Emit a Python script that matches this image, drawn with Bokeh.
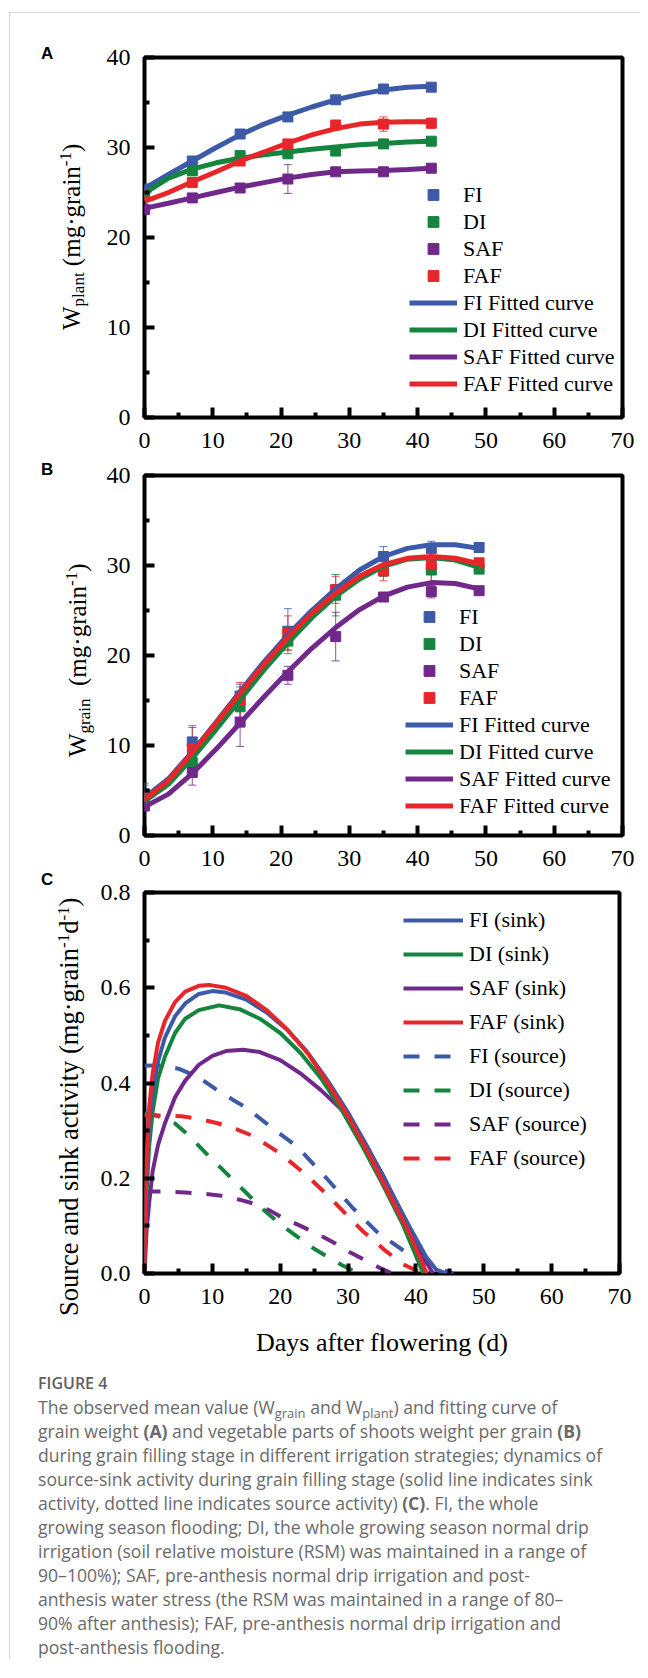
from bokeh.plotting import figure
from bokeh.models import (Range1d, FixedTicker, Legend, LegendItem, Whisker,
                          TeeHead, ColumnDataSource, PrintfTickFormatter, Div)
from bokeh.layouts import column, row
from bokeh.embed import file_html
from bokeh.resources import INLINE

series = ["FI", "DI", "SAF", "FAF"]
colors = ["#3C5AA8", "#15843E", "#70288A", "#E8262A"]

x_ticks = [0, 10, 20, 30, 40, 50, 60, 70]
x_minor = [5, 15, 25, 35, 45, 55, 65]
w_ticks = [0, 10, 20, 30, 40]
w_minor = [5, 15, 25, 35]
c_ticks = [0.0, 0.2, 0.4, 0.6, 0.8]
c_minor = [0.1, 0.3, 0.5, 0.7]

# ---------------- Panel A : W_plant ----------------
days_a = [0, 7, 14, 21, 28, 35, 42]
plant_fi = [25.4, 28.5, 31.5, 33.4, 35.3, 36.5, 36.7]
plant_di = [24.9, 27.4, 29.1, 29.3, 29.6, 30.4, 30.7]
plant_saf = [23.1, 24.4, 25.5, 26.5, 27.3, 27.3, 27.7]
plant_faf = [24.7, 26.1, 28.5, 30.4, 32.5, 32.6, 32.7]
plant_err_fi = [0.3, 0.3, 0.3, 0.3, 0.2, 0.3, 0.3]
plant_err_di = [0.5, 0.4, 0.3, 0.3, 0.3, 0.2, 0.2]
plant_err_saf = [0.3, 0.2, 0.3, 1.6, 0.2, 0.2, 0.2]
plant_err_faf = [0.5, 0.3, 0.3, 0.3, 0.3, 0.8, 0.55]

fit_days_a = [0, 1, 3.5, 7, 10.5, 14, 17.5, 21, 24.5, 28, 31.5, 35, 38.5, 42]
fit_a_fi = [25.5, 25.9, 27.0, 28.5, 30.0, 31.4, 32.6, 33.6, 34.5, 35.3, 35.9, 36.4, 36.7, 36.8]
fit_a_di = [24.6, 25.4, 26.6, 27.6, 28.3, 28.8, 29.2, 29.5, 29.8, 30.05, 30.3, 30.45, 30.6, 30.7]
fit_a_saf = [23.2, 23.4, 23.8, 24.4, 25.0, 25.6, 26.1, 26.6, 27.0, 27.3, 27.4, 27.45, 27.55, 27.7]
fit_a_faf = [24.0, 24.3, 25.0, 26.2, 27.3, 28.5, 29.5, 30.5, 31.4, 32.1, 32.6, 32.8, 32.85, 32.85]

# ---------------- Panel B : W_grain ----------------
days_b = [0, 7, 14, 21, 28, 35, 42, 49]
grain_fi = [4.6, 10.4, 15.5, 22.7, 27.3, 31.0, 31.9, 32.0]
grain_di = [4.5, 8.1, 14.3, 21.6, 26.7, 29.4, 29.5, 29.6]
grain_saf = [3.3, 7.0, 12.6, 17.8, 22.1, 26.5, 27.1, 27.2]
grain_faf = [4.3, 9.6, 15.0, 22.5, 27.3, 29.4, 30.1, 30.3]
grain_err_fi = [1.0, 1.8, 1.3, 2.5, 0.6, 1.1, 0.8, 0.5]
grain_err_di = [1.3, 1.0, 2.2, 1.0, 2.3, 0.6, 2.0, 0.3]
grain_err_saf = [0.6, 1.4, 2.7, 1.0, 2.7, 0.4, 0.7, 0.3]
grain_err_faf = [0.8, 2.4, 2.0, 1.9, 1.5, 1.1, 2.3, 0.4]

fit_days_b = [0, 3.5, 7, 10.5, 14, 17.5, 21, 24.5, 28, 31.5, 35, 38.5, 42, 45.5, 49]
fit_b_fi = [4.2, 6.3, 9.3, 12.6, 16.0, 19.3, 22.3, 25.0, 27.4, 29.5, 31.0, 31.9, 32.3, 32.3, 31.9]
fit_b_di = [3.8, 5.7, 8.6, 11.8, 15.1, 18.4, 21.4, 24.2, 26.6, 28.5, 29.9, 30.7, 30.9, 30.6, 29.8]
fit_b_saf = [3.2, 4.6, 6.9, 9.6, 12.5, 15.4, 18.2, 20.8, 23.1, 25.1, 26.6, 27.6, 28.1, 28.0, 27.4]
fit_b_faf = [4.0, 6.1, 9.2, 12.5, 15.8, 19.0, 22.0, 24.7, 26.9, 28.8, 30.1, 30.8, 31.0, 30.8, 30.2]

# ---------------- Panel C : source / sink activity ----------------
sink_fi_d = [0, 0.3, 0.7, 1.2, 2, 3, 4.5, 6, 8, 10, 12, 15, 18, 21, 24, 27, 30, 33, 36, 39, 41.5, 43, 44.5]
sink_fi_v = [0, 0.2, 0.31, 0.38, 0.445, 0.495, 0.54, 0.567, 0.587, 0.593, 0.59, 0.575, 0.548, 0.512,
             0.465, 0.405, 0.338, 0.262, 0.18, 0.1, 0.035, 0.008, 0.0]
sink_di_d = [0, 0.3, 0.7, 1.2, 2, 3, 4.5, 6, 8, 11, 14, 17, 20, 23, 26, 29, 32, 35, 38, 41.1]
sink_di_v = [0, 0.17, 0.27, 0.34, 0.41, 0.455, 0.505, 0.535, 0.553, 0.563, 0.555, 0.535, 0.505,
             0.463, 0.41, 0.345, 0.27, 0.19, 0.105, 0.0]
sink_saf_d = [0, 0.3, 0.7, 1.2, 2, 3, 4.5, 6, 8, 10, 12, 14.5, 17, 20, 23, 26, 29, 32, 35, 38, 40.5, 42.5]
sink_saf_v = [0, 0.09, 0.15, 0.215, 0.27, 0.315, 0.37, 0.405, 0.438, 0.457, 0.467, 0.47, 0.465, 0.448,
              0.42, 0.385, 0.345, 0.285, 0.21, 0.125, 0.05, 0.0]
sink_faf_d = [0, 0.3, 0.7, 1.2, 2, 3, 4.5, 6, 8, 9.5, 12, 15, 18, 21, 24, 27, 30, 33, 36, 39, 41.6]
sink_faf_v = [0, 0.24, 0.35, 0.42, 0.485, 0.53, 0.57, 0.592, 0.604, 0.606, 0.6, 0.583, 0.553, 0.513,
              0.463, 0.4, 0.33, 0.252, 0.168, 0.085, 0.0]

src_fi_d = [0, 3, 5, 8, 10.4, 13, 15, 18.7, 22.6, 26.7, 30.6, 34.5, 38.5, 41, 43.8, 45.5]
src_fi_v = [0.437, 0.436, 0.43, 0.412, 0.388, 0.365, 0.348, 0.307, 0.265, 0.202, 0.139, 0.084,
            0.045, 0.025, 0.008, 0.0]
src_di_d = [0, 1.5, 3, 4.5, 6.5, 8.9, 12.8, 15.8, 18, 20.6, 25, 27, 29.2, 31.5]
src_di_v = [0.336, 0.333, 0.325, 0.315, 0.29, 0.255, 0.2, 0.158, 0.128, 0.097, 0.052, 0.035, 0.017, 0.0]
src_saf_d = [0, 3, 6, 9, 11, 14, 16.3, 18.5, 20.6, 23, 25.5, 28, 30.2, 32.5, 34.5, 36.5]
src_saf_v = [0.172, 0.172, 0.17, 0.167, 0.164, 0.155, 0.146, 0.132, 0.115, 0.1, 0.083, 0.064,
             0.045, 0.028, 0.013, 0.0]
src_faf_d = [0, 3, 5.5, 8, 10.9, 13.5, 15.8, 19.7, 23.6, 27, 30, 32.1, 35.5, 38, 40.5, 41.5]
src_faf_v = [0.332, 0.332, 0.33, 0.325, 0.315, 0.303, 0.29, 0.255, 0.21, 0.164, 0.12, 0.09, 0.048,
             0.02, 0.003, 0.0]

SERIF = "Liberation Serif"
STRIP_W = 86          # width of the left strip holding the rotated axis titles
MAIN_W = 630 - STRIP_W


def style_fig(p, yticks, yminor, yfmt=None):
    p.grid.visible = False
    p.outline_line_color = "black"
    p.outline_line_width = 4
    p.background_fill_color = "white"
    p.border_fill_color = "white"
    p.xaxis.ticker = FixedTicker(ticks=x_ticks, minor_ticks=x_minor)
    p.yaxis.ticker = FixedTicker(ticks=yticks, minor_ticks=yminor)
    if yfmt:
        p.yaxis.formatter = PrintfTickFormatter(format=yfmt)
    for axes in (p.xaxis, p.yaxis):
        axes.axis_line_color = None
        axes.major_tick_in = 10
        axes.major_tick_out = 0
        axes.minor_tick_in = 5
        axes.minor_tick_out = 0
        axes.major_tick_line_width = 4
        axes.minor_tick_line_width = 4
        axes.major_tick_line_color = "black"
        axes.minor_tick_line_color = "black"
        axes.major_label_text_font = SERIF
        axes.major_label_text_font_size = "24px"
        axes.major_label_text_color = "black"
    p.xaxis.major_label_standoff = 15
    p.yaxis.major_label_standoff = 14


SUB = '<span style="font-size:17px;position:relative;top:4px;">'
SUP = '<span style="font-size:17px;position:relative;top:-9px;">'


def strip(height, letter, letter_top, title_html, left, top, size):
    rot = (f'<div style="position:absolute;left:{left}px;top:{top}px;transform:rotate(-90deg);'
           f'transform-origin:0 0;white-space:nowrap;font-family:\'Liberation Serif\',serif;'
           f'font-size:{size}px;line-height:{size}px;color:#000;">{title_html}</div>')
    let = (f'<div style="position:absolute;left:31px;top:{letter_top}px;font-family:\'Liberation Sans\','
           f'sans-serif;font-weight:bold;font-size:17px;line-height:20px;color:#000;">{letter}</div>')
    html = f'<div style="position:relative;width:{STRIP_W}px;height:{height}px;">{let}{rot}</div>'
    return Div(text=html, width=STRIP_W, height=height, margin=0)


def weight_panel(height, top, bottom, days, obs, errs, fdays, fits, legend_loc):
    p = figure(width=MAIN_W, height=height, x_range=Range1d(0, 70), y_range=Range1d(0, 40),
               output_backend="svg", toolbar_location=None, min_border_left=144 - 10 - STRIP_W,
               min_border_right=18, min_border_top=top, min_border_bottom=bottom)
    style_fig(p, w_ticks, w_minor)
    marks, lines = [], []
    for name, col, ys, es in zip(series, colors, obs, errs):
        src = ColumnDataSource(dict(x=days, y=ys, lo=[a - b for a, b in zip(ys, es)],
                                    hi=[a + b for a, b in zip(ys, es)]))
        r = p.scatter("x", "y", source=src, marker="square", size=10, color=col)
        p.add_layout(Whisker(base="x", lower="lo", upper="hi", source=src, dimension="height",
                             line_color=col, line_width=1, line_alpha=0.8,
                             upper_head=TeeHead(size=8, line_color=col, line_width=1, line_alpha=0.8),
                             lower_head=TeeHead(size=8, line_color=col, line_width=1, line_alpha=0.8)))
        marks.append(r)
    for name, col, ys in zip(series, colors, fits):
        lines.append(p.line(fdays, ys, line_width=5, color=col))
    items = [LegendItem(label=n, renderers=[r]) for n, r in zip(series, marks)]
    items += [LegendItem(label=f"{n} Fitted curve", renderers=[r]) for n, r in zip(series, lines)]
    lg = Legend(items=items, location=legend_loc, orientation="vertical", background_fill_alpha=0,
                border_line_color=None, padding=0, margin=0, spacing=0, glyph_width=48,
                glyph_height=27, label_height=27, label_standoff=6, label_text_font=SERIF,
                label_text_font_size="22px", label_text_color="black")
    p.add_layout(lg)
    return p


# Panel A : page y 13..462, frame 57..417
pA = weight_panel(449, 44, 45, days_a, [plant_fi, plant_di, plant_saf, plant_faf],
                  [plant_err_fi, plant_err_di, plant_err_saf, plant_err_faf],
                  fit_days_a, [fit_a_fi, fit_a_di, fit_a_saf, fit_a_faf], (265, 20))
sA = strip(449, "A", 31, f"W{SUB}plant</span> (mg\u00b7grain{SUP}-1</span>)", 49, 317, 25)

# Panel B : page y 462..873, frame 475..835
pB = weight_panel(411, 13, 38, days_b, [grain_fi, grain_di, grain_saf, grain_faf],
                  [grain_err_fi, grain_err_di, grain_err_saf, grain_err_faf],
                  fit_days_b, [fit_b_fi, fit_b_di, fit_b_saf, fit_b_faf], (261, 16))
sB = strip(411, "B", -2, f"W{SUB}grain</span>&nbsp;&nbsp;(mg\u00b7grain{SUP}-1</span>)", 55, 295, 25)

# Panel C : page y 873..1369, frame 892..1273
pC = figure(width=MAIN_W, height=496, x_range=Range1d(0, 70), y_range=Range1d(0, 0.8),
            output_backend="svg", toolbar_location=None, min_border_left=144 - 10 - STRIP_W,
            min_border_right=21, min_border_top=19, min_border_bottom=96)
style_fig(pC, c_ticks, c_minor, "%.1f")
pC.xaxis.axis_label = "Days after flowering (d)"
pC.xaxis.axis_label_text_font = SERIF
pC.xaxis.axis_label_text_font_size = "26px"
pC.xaxis.axis_label_text_font_style = "normal"
pC.xaxis.axis_label_text_color = "black"
pC.xaxis.axis_label_standoff = 21

src_r = {}
for name, col, d, v in zip(series, colors, [src_fi_d, src_di_d, src_saf_d, src_faf_d],
                           [src_fi_v, src_di_v, src_saf_v, src_faf_v]):
    src_r[name] = pC.line(d, v, line_width=4, color=col, line_dash="16 15")
sink_r = {}
sink_data = {"FI": (sink_fi_d, sink_fi_v), "DI": (sink_di_d, sink_di_v),
             "SAF": (sink_saf_d, sink_saf_v), "FAF": (sink_faf_d, sink_faf_v)}
for name in ["SAF", "DI", "FI", "FAF"]:
    col = colors[series.index(name)]
    d, v = sink_data[name]
    sink_r[name] = pC.line(d, v, line_width=4, color=col)
c_items = [LegendItem(label=f"{n} (sink)", renderers=[sink_r[n]]) for n in series]
c_items += [LegendItem(label=f"{n} (source)", renderers=[src_r[n]]) for n in series]
pC.add_layout(Legend(items=c_items, location=(259, 98), orientation="vertical",
                     background_fill_alpha=0, border_line_color=None, padding=0, margin=0,
                     spacing=0, glyph_width=60, glyph_height=34, label_height=34,
                     label_standoff=6, label_text_font=SERIF, label_text_font_size="22px",
                     label_text_color="black"))
sC = strip(496, "C", -3,
           f"Source and sink activity (mg\u00b7grain{SUP}-1</span>d{SUP}-1</span>)", 46, 443, 26.5)

sub = '<span style="font-size:13px;vertical-align:-4px;line-height:0;">'
caption_lines = [
    f"The observed mean value (W{sub}grain</span> and W{sub}plant</span>) and fitting curve of",
    "grain weight <b>(A)</b> and vegetable parts of shoots weight per grain <b>(B)</b>",
    "during grain filling stage in different irrigation strategies; dynamics of",
    "source-sink activity during grain filling stage (solid line indicates sink",
    "activity, dotted line indicates source activity) <b>(C)</b>. FI, the whole",
    "growing season flooding; DI, the whole growing season normal drip",
    "irrigation (soil relative moisture (RSM) was maintained in a range of",
    "90\u2013100%); SAF, pre-anthesis normal drip irrigation and post-",
    "anthesis water stress (the RSM was maintained in a range of 80\u2013",
    "90% after anthesis); FAF, pre-anthesis normal drip irrigation and",
    "post-anthesis flooding.",
]
html = ('<div style="font-family:\'Open Sans\',sans-serif;color:#6a6a6a;padding:2px 0 0 28px;'
        'line-height:24px;font-size:17.6px;white-space:nowrap;">'
        '<div style="font-weight:600;font-size:16px;color:#606060;">FIGURE 4</div>'
        + "<br>".join(caption_lines) + "</div>")
cap = Div(text=html, width=630, height=290, margin=0)

layout = column(row(sA, pA), row(sB, pB), row(sC, pC), cap,
                styles={"border-left": "1px solid #d6d6d6", "border-top": "1px solid #d6d6d6",
                        "margin-top": "12px", "margin-left": "9px"})

open("out.html", "w").write(file_html(layout, INLINE))
